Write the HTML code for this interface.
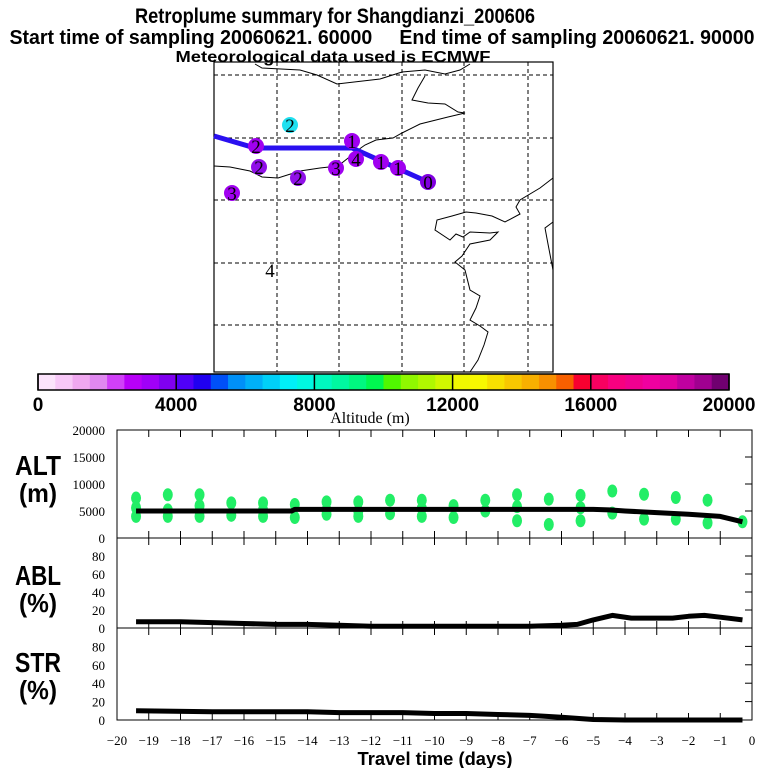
<!DOCTYPE html>
<html><head><meta charset="utf-8"><style>
html,body{margin:0;padding:0;background:#fff;}
svg{display:block;}
.t{font-family:"Liberation Sans",sans-serif;font-weight:bold;}
.s{font-family:"Liberation Serif",serif;}
.pre{white-space:pre;}
</style></head><body>
<svg id="chart" width="768" height="768" viewBox="0 0 768 768">
<text class="t" x="335" y="23" font-size="21" text-anchor="middle" textLength="400" lengthAdjust="spacingAndGlyphs">Retroplume summary for Shangdianzi_200606</text>
<text class="t pre" x="382" y="44" font-size="20" text-anchor="middle" textLength="745" lengthAdjust="spacingAndGlyphs">Start time of sampling 20060621. 60000&#160;&#160;&#160;&#160;&#160;End time of sampling 20060621. 90000</text>
<text class="t" x="333" y="62" font-size="16" text-anchor="middle" textLength="315" lengthAdjust="spacingAndGlyphs">Meteorological data used is ECMWF</text>

<g id="map">
 <g stroke="#000" stroke-width="1" stroke-dasharray="4,3">
  <line x1="277" y1="62" x2="277" y2="372"/><line x1="339" y1="62" x2="339" y2="372"/>
  <line x1="402" y1="62" x2="402" y2="372"/><line x1="464" y1="62" x2="464" y2="372"/>
  <line x1="528" y1="62" x2="528" y2="372"/>
  <line x1="214" y1="75" x2="553" y2="75"/><line x1="214" y1="138" x2="553" y2="138"/>
  <line x1="214" y1="200" x2="553" y2="200"/><line x1="214" y1="263" x2="553" y2="263"/>
  <line x1="214" y1="325" x2="553" y2="325"/>
 </g>
 <g fill="none" stroke="#000" stroke-width="1">
  <path d="M255,64 L262,68 L300,70 L317,75 L337,84 L380,79 L402,72 L425,70 L445,74 L460,70 L470,64"/>
  <path d="M425,76 L418,88 L412,100 L428,103 L445,104 L458,112 L465,113 L448,117 L420,124 L402,133 L393,138 L376,140 L365,145 L358,150 L352,155 L338,166 L320,168 L300,171 L278,178 L262,177 L250,171 L230,167 L214,166"/>
  <path d="M553,178 L540,188 L520,200 L516,207 L520,214 L505,222 L492,216 L476,213 L466,212 L452,216 L437,220 L435,230 L450,240 L456,234 L463,237 L470,232 L490,233 L498,232 L490,240 L470,244 L462,256 L455,262 L465,270 L470,290 L480,296 L476,308 L470,320 L480,326 L488,332 L484,345 L478,360 L470,372"/>
  <path d="M553,222 L545,228 L548,244 L553,270"/>
 </g>
 <rect x="214" y="62" width="339" height="310" fill="none" stroke="#000" stroke-width="1.2"/>
 <polyline points="214,136 255,148 352,148 428,182" fill="none" stroke="#2a10f0" stroke-width="5"/>
 <g id="mapmarks"></g>
</g>

<g id="colorbar"></g>
<text class="s" x="370" y="423" font-size="16" text-anchor="middle">Altitude (m)</text>

<g id="panels"></g>
</svg>
<script>
const NS='http://www.w3.org/2000/svg';
function mk(tag,attrs,parent){const e=document.createElementNS(NS,tag);for(const k in attrs)e.setAttribute(k,attrs[k]);parent.appendChild(e);return e;}

const markX=[256,259,290,298,336,352,356,381,398,428,232,270];
const markY=[146,167,125,178,168,141,159,162,168,182,193,270];
const markLabel=['2','2','2','2','3','1','4','1','1','0','3','4'];
const markColor=['#a000f0','#9010e8','#20e0f0','#9010e8','#a000f0','#a000f0','#a000f0','#a000f0','#a000f0','#8000e0','#a000f0',null];
const mm=document.getElementById('mapmarks');
for(let i=0;i<markX.length;i++){
  if(markColor[i]){const c=mk('circle',{cx:markX[i],cy:markY[i],r:8,fill:markColor[i]},mm);
  
  }
  const t=mk('text',{x:markX[i],y:markY[i]+7,'font-size':19,'text-anchor':'middle',class:'s'},mm);
  t.textContent=markLabel[i];
  
  
}

const cbColors=['#fce4fc','#f8c8f8','#f0a8f0','#e088f0','#d040f8','#b800f8','#a000f8','#8000f0',
'#5000f8','#2000f0','#0050f8','#0090f8','#00b0f8','#00d0f8','#00f0f8','#00f8e0',
'#00f8c0','#00f8a0','#00f880','#00f850','#50f800','#90f800','#b0f800','#d0f800',
'#f0f800','#f8f800','#f8e000','#f8c800','#f8b000','#f89000','#f86000','#f80030',
'#f80060','#f80080','#f00090','#f000a0','#e000a0','#c000a0','#a00090','#700070'];
const cbTicks=[0,4000,8000,12000,16000,20000];
const cb=document.getElementById('colorbar');
const cbX0=38,cbX1=729,cbY=374,cbH=16;
const cbx=v=>cbX0+(cbX1-cbX0)*v/20000;
cbColors.forEach((c,i)=>{const r=mk('rect',{x:cbx(i*500),y:cbY,width:cbx((i+1)*500)-cbx(i*500)+0.5,height:cbH,fill:c},cb);

});
mk('rect',{x:cbX0,y:cbY,width:cbX1-cbX0,height:cbH,fill:'none',stroke:'#000','stroke-width':1.5},cb);
cbTicks.forEach(v=>{mk('line',{x1:cbx(v),y1:cbY,x2:cbx(v),y2:cbY+cbH,stroke:'#000','stroke-width':1.5},cb);
const t=mk('text',{x:cbx(v),y:411,'font-size':19,'text-anchor':'middle',class:'t'},cb);t.textContent=v;

});

const dotDays=[-19.4,-18.4,-17.4,-16.4,-15.4,-14.4,-13.4,-12.4,-11.4,-10.4,-9.4,-8.4,-7.4,-6.4,-5.4,-4.4,-3.4,-2.4,-1.4,-0.3];
const dotAlts=[[7400,5600,4000],[8000,5200,4000],[8000,6000,4000],[6500,4200],[6500,5200,4000],[6200,3800],[6700,5200,4400],[6700,5000,4000],[7000,4500],[7000,5500,4000],[6000,3800],[7000,5000],[8000,5800,3200],[7200,2500],[7900,5600,3200],[8700,4600],[8100,3500],[7500,3500],[7000,2800],[3000]];
const altDays=[-19.4,-14.5,-14.4,-5.0,-4.5,-4.0,-3.0,-2.0,-1.0,-0.3];
const altVals=[5000,5000,5300,5300,5200,5000,4700,4400,4000,3000];
const ablDays=[-19.4,-18,-17,-16,-15,-14,-13,-12,-11,-10,-9,-8,-7,-6,-5.5,-5,-4.4,-3.8,-3,-2.5,-2,-1.5,-1,-0.3];
const ablVals=[7,7,6,5,4,4,3,2,2,2,2,2,2,3,4,9,14,11,11,11,13,14,12,9];
const strDays=[-19.4,-17,-14,-13,-11,-10,-9,-8,-7,-6,-5,-4,-2,-0.3];
const strVals=[10,9,9,8,8,7,7,6,5,3,0.5,0,0,0];
const xTicks=[-20,-19,-18,-17,-16,-15,-14,-13,-12,-11,-10,-9,-8,-7,-6,-5,-4,-3,-2,-1,0];
const altTicks=[0,5000,10000,15000,20000];
const pctTicks=[0,20,40,60,80];

const P=document.getElementById('panels');
const X0=117,X1=752;
const xs=d=>X0+(X1-X0)*(d+20)/20;
const panels=[
 {name:'alt',top:430,bot:538,max:20000,ticks:altTicks,l1:'ALT',l2:'(m)',ly:475},
 {name:'abl',top:538,bot:628,max:100,ticks:pctTicks,l1:'ABL',l2:'(%)',ly:585},
 {name:'str',top:628,bot:720,max:100,ticks:pctTicks,l1:'STR',l2:'(%)',ly:672}];
panels.forEach(p=>{
 const g=mk('g',{},P);
 
 
 p.ys=v=>p.bot-(p.bot-p.top)*v/p.max;
 mk('rect',{x:X0,y:p.top,width:X1-X0,height:p.bot-p.top,fill:'none',stroke:'#000','stroke-width':1},g);
 xTicks.forEach(d=>{mk('line',{x1:xs(d),y1:p.top,x2:xs(d),y2:p.top+7,stroke:'#000'},g);
   mk('line',{x1:xs(d),y1:p.bot,x2:xs(d),y2:p.bot-7,stroke:'#000'},g);});
 p.ticks.forEach(v=>{const y=p.ys(v);
   mk('line',{x1:X1,y1:y,x2:X1-7,y2:y,stroke:'#000'},g);
   const t=mk('text',{x:105,y:y+5,'font-size':13,'text-anchor':'end',class:'s'},g);t.textContent=v;
   
   });
 const a=mk('text',{x:38,y:p.ly,'font-size':28,'text-anchor':'middle',class:'t',textLength:'46',lengthAdjust:'spacingAndGlyphs'},g);a.textContent=p.l1;
 
 
 const b=mk('text',{x:38,y:p.ly+27,'font-size':26,'text-anchor':'middle',class:'t',textLength:'38',lengthAdjust:'spacingAndGlyphs'},g);b.textContent=p.l2;
 
 
});
xTicks.forEach(d=>{const t=mk('text',{x:xs(d),y:745,'font-size':13,'text-anchor':'middle',class:'s'},P);t.textContent=(d<0?'\u2212':'')+Math.abs(d);

});
const xt=mk('text',{x:435,y:765,'font-size':18,'text-anchor':'middle',class:'t',textLength:'155',lengthAdjust:'spacingAndGlyphs'},P);xt.textContent='Travel time (days)';



const pa=panels[0];
dotDays.forEach((d,i)=>dotAlts[i].forEach(v=>{const e=mk('ellipse',{cx:xs(d),cy:pa.ys(v),rx:5,ry:6.5,fill:'#22ee66'},P);

}));
function line(days,vals,p,name){const pts=days.map((d,i)=>xs(d)+','+p.ys(vals[i])).join(' ');
const l=mk('polyline',{points:pts,fill:'none',stroke:'#000','stroke-width':5,'stroke-linejoin':'round'},P);

}
line(altDays,altVals,panels[0],'mean-altitude-line');
line(ablDays,ablVals,panels[1],'abl-fraction-line');
line(strDays,strVals,panels[2],'stratosphere-fraction-line');
</script>
</body></html>
